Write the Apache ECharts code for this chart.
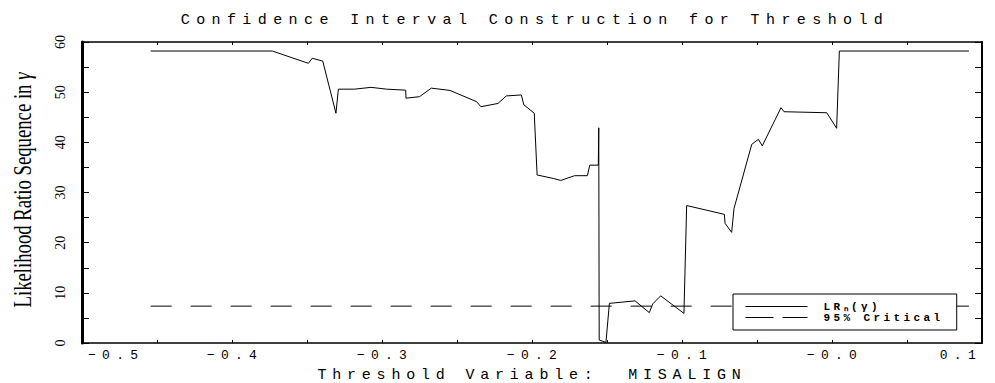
<!DOCTYPE html>
<html>
<head>
<meta charset="utf-8">
<script src="https://cdn.jsdelivr.net/npm/echarts@6/dist/echarts.min.js"></script>
<style>
  html, body { margin: 0; padding: 0; background: #fff; }
  #chart { width: 995px; height: 383px; }
  #chart text { white-space: pre; }
  #chart text[style*="lsT"] { letter-spacing: 6.4px; }
  #chart text[style*="lsX"] { letter-spacing: 5.8px; }
  #chart text[style*="lsK"] { letter-spacing: 6.3px; }
  #chart text[style*="lsL"] { letter-spacing: 3.4px; }
</style>
</head>
<body>
<div id="chart"></div>
<script>
// ---- data ----
const gammaVals = [
  -0.4542, -0.3731, -0.3491, -0.3465, -0.3395, -0.3307, -0.3291, -0.3185, -0.3073, -0.2969,
  -0.2842, -0.2840, -0.2750, -0.2671, -0.2547, -0.2369, -0.2341, -0.2227, -0.2171, -0.2071,
  -0.2055, -0.1985, -0.1966, -0.1858, -0.1808, -0.1716, -0.1631, -0.1615, -0.1558, -0.1555,
  -0.1552, -0.1507, -0.1484, -0.1313, -0.1218, -0.1195, -0.1142, -0.0987, -0.0969, -0.0718,
  -0.0713, -0.0669, -0.0653, -0.0535, -0.0491, -0.0465, -0.0340, -0.0320, -0.0035, 0.0031,
  0.0049, 0.0913
];
const lrVals = [
  58.2, 58.2, 55.75, 56.75, 56.2, 45.8, 50.6, 50.6, 50.96, 50.6,
  50.4, 48.8, 49.1, 50.8, 50.35, 48.1, 47.1, 47.75, 49.25, 49.45,
  47.5, 45.8, 33.5, 32.8, 32.4, 33.35, 33.35, 35.45, 35.45, 42.9,
  0.6, 0.13, 7.9, 8.4, 6.05, 7.8, 9.4, 5.9, 27.4, 25.65,
  23.85, 22.06, 26.85, 39.6, 40.6, 39.3, 46.9, 46.1, 45.9, 42.8,
  58.2, 58.2
];
const criticalValue = 7.35;
const xTickLabels = ['\u22120.5', '\u22120.4', '\u22120.3', '\u22120.2', '\u22120.1', '\u22120.0', '0.1'];
const seriesNames = ['LR\u2099(\u03b3)', '95% Critical'];
const titleText = 'Confidence Interval Construction for Threshold';
const xAxisName = 'Threshold Variable:  MISALIGN';
const yAxisName = 'Likelihood Ratio Sequence in ';

const X_MIN = -0.5, X_MAX = 0.1, X_STEP = 0.1;
const MONO_T = 'Liberation Mono, lsT';
const MONO_X = 'Liberation Mono, lsX';
const MONO_K = 'Liberation Mono, lsK';
const MONO_L = 'Liberation Mono, lsL';

const chart = echarts.init(document.getElementById('chart'), null, { renderer: 'svg' });

const lrData = gammaVals.map((g, i) => [g, lrVals[i]]);
const critData = [[gammaVals[0], criticalValue], [gammaVals[gammaVals.length - 1], criticalValue]];

function xLabel(v) {
  const idx = Math.round((v - X_MIN) / X_STEP);
  return xTickLabels[idx] !== undefined ? xTickLabels[idx] : '';
}

const xCommon = {
  type: 'value', min: X_MIN, max: X_MAX, interval: X_STEP,
  splitLine: { show: false },
  axisTick: { show: true, inside: true, length: 3, lineStyle: { color: '#000', width: 1 } },
  minorTick: { show: true, splitNumber: 2, length: 3, lineStyle: { color: '#000', width: 1 } },
  minorSplitLine: { show: false }
};
const yCommon = {
  type: 'value', min: 0, max: 60, interval: 10,
  splitLine: { show: false },
  axisTick: { show: true, inside: true, length: 7, lineStyle: { color: '#000', width: 1 } },
  minorTick: { show: true, splitNumber: 2, length: 7, lineStyle: { color: '#000', width: 1 } },
  minorSplitLine: { show: false }
};

chart.setOption({
  animation: false,
  backgroundColor: '#fff',
  title: {
    text: titleText,
    left: 530, top: 8, textAlign: 'center',
    textStyle: { fontFamily: MONO_T, fontSize: 15, fontWeight: 'normal', color: '#000' }
  },
  grid: { left: 82, right: 13, top: 42, bottom: 40, containLabel: false, outerBoundsMode: 'none' },
  xAxis: [
    Object.assign({}, xCommon, {
      position: 'bottom',
      name: xAxisName, nameLocation: 'middle', nameGap: 25,
      nameTextStyle: { fontFamily: MONO_X, fontSize: 15, color: '#000' },
      axisLine: { show: true, onZero: false, lineStyle: { color: '#000', width: 1.5 } },
      axisLabel: {
        show: true, margin: 6, color: '#000', fontFamily: MONO_K, fontSize: 13,
        padding: [0, 0, 0, 6],
        alignMinLabel: 'left', alignMaxLabel: 'right',
        formatter: xLabel
      }
    }),
    Object.assign({}, xCommon, {
      position: 'top',
      axisLine: { show: true, onZero: false, lineStyle: { color: '#000', width: 1.5 } },
      axisLabel: { show: false }
    })
  ],
  yAxis: [
    Object.assign({}, yCommon, {
      position: 'left',
      axisLine: { show: true, onZero: false, lineStyle: { color: '#000', width: 3 } },
      axisLabel: {
        show: true, rotate: 90, margin: 15, color: '#000',
        fontFamily: 'Liberation Serif', fontSize: 14
      }
    }),
    Object.assign({}, yCommon, {
      position: 'right',
      axisLine: { show: true, onZero: false, lineStyle: { color: '#000', width: 2 } },
      axisLabel: { show: false }
    })
  ],
  legend: {
    orient: 'vertical', left: 733, top: 294,
    padding: [7, 54, 7, 12],
    itemWidth: 62, itemHeight: 11, itemGap: 0,
    backgroundColor: '#fff', borderColor: '#000', borderWidth: 1, borderRadius: 0,
    selectedMode: false,
    itemStyle: { color: 'rgba(0,0,0,0)', borderColor: 'rgba(0,0,0,0)', borderWidth: 0 },
    lineStyle: { width: 1, color: '#000' },
    data: [
      { name: seriesNames[0] },
      { name: seriesNames[1], lineStyle: { type: [28, 9], width: 1 } }
    ],
    textStyle: {
      color: '#000', fontFamily: MONO_L, fontSize: 11, fontWeight: 'bold',
      lineHeight: 11, padding: [0, 0, 0, 11]
    }
  },
  graphic: [
    {
      type: 'text', x: 22, y: 190, rotation: Math.PI / 2, scaleX: 0.72, scaleY: 1,
      style: {
        text: '{a|' + yAxisName + '}{g|\u03b3}',
        textAlign: 'center', textVerticalAlign: 'middle',
        rich: {
          a: { fontFamily: 'Liberation Serif', fontSize: 26, fill: '#000' },
          g: { fontFamily: 'Liberation Serif', fontStyle: 'italic', fontSize: 26, fill: '#000' }
        }
      }
    }
  ],
  series: [
    {
      name: seriesNames[0], type: 'line', data: lrData, symbol: 'none',
      xAxisIndex: 0, yAxisIndex: 0,
      itemStyle: { color: '#000' },
      lineStyle: { color: '#000', width: 1 }
    },
    {
      name: seriesNames[1], type: 'line', data: critData, symbol: 'none',
      xAxisIndex: 0, yAxisIndex: 0,
      itemStyle: { color: '#000' },
      lineStyle: { color: '#000', width: 1, type: [21, 19] }
    }
  ]
});
</script>
</body>
</html>
